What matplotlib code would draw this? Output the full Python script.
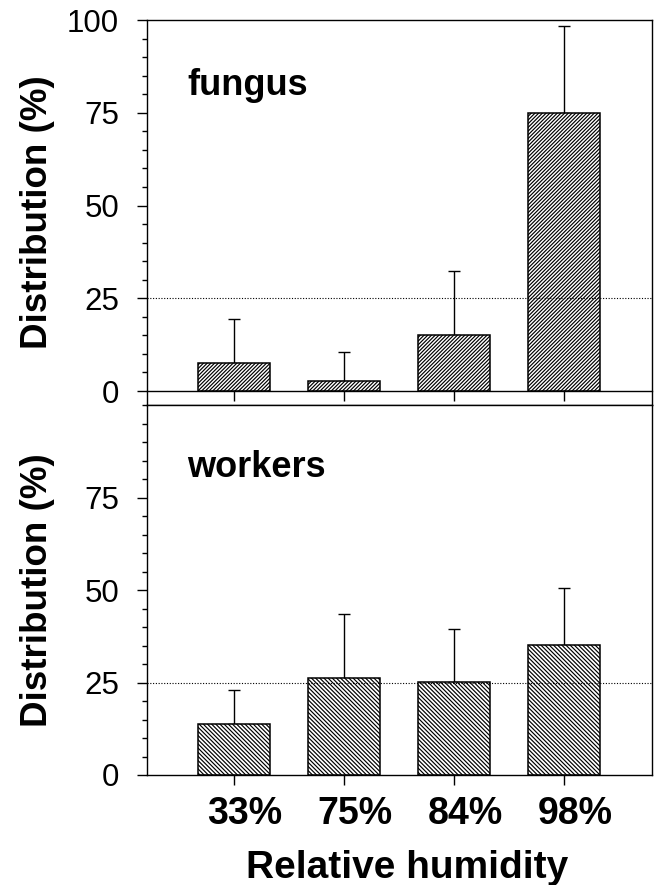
import matplotlib
matplotlib.use("Agg")
import matplotlib.pyplot as plt
import matplotlib.transforms as mtransforms
import numpy as np

plt.rcParams['font.family'] = ['Liberation Sans', 'DejaVu Sans']
plt.rcParams['hatch.linewidth'] = 0.85

categories = ["33%", "75%", "84%", "98%"]
fungus_mean = [7.5, 2.7, 15.1, 75.0]
fungus_err = [11.9, 7.7, 17.3, 23.5]
workers_mean = [13.7, 26.3, 25.2, 35.1]
workers_err = [9.2, 17.1, 14.3, 15.4]
reference_level = 25
yticks_top = [0, 25, 50, 75, 100]
yticks_bottom = [0, 25, 50, 75]

W, H = 655, 885
fig = plt.figure(figsize=(W / 100, H / 100), dpi=100)
L, R = 147, 652
ax1 = fig.add_axes([L / W, 1 - 405 / H, (R - L) / W, (405 - 20) / H])
ax2 = fig.add_axes([L / W, 1 - 775 / H, (R - L) / W, (775 - 405) / H])

x = np.arange(len(categories))


def style_axis(ax, yticks):
    ax.set_xlim(-0.79, 3.8)
    ax.set_yticks(yticks)
    ax.set_yticks(np.arange(0, 101, 5), minor=True)
    ax.tick_params(axis='y', which='major', direction='out', length=7, width=1, labelsize=22.5, pad=13)
    ax.tick_params(axis='y', which='minor', direction='out', length=3.6, width=1)
    ax.tick_params(axis='x', which='major', direction='out', length=7.2, width=1)
    for s in ax.spines.values():
        s.set_linewidth(1.0)
    ax.set_ylabel("Distribution (%)", fontsize=26.5, fontweight='bold')
    ax.yaxis.set_label_coords((55 - L) / (R - L), 0.5)


# top panel
ax1.bar(x, fungus_mean, width=0.66, color='white', edgecolor='black', linewidth=1.1,
        hatch='/' * 9, zorder=2)
ax1.errorbar(x, fungus_mean, yerr=[np.zeros(len(x)), fungus_err], fmt='none', ecolor='black',
             elinewidth=1, capsize=4, capthick=1, zorder=1)
ax1.axhline(reference_level, color='black', linestyle=(0, (1, 1.5)), linewidth=0.8, zorder=3)
ax1.set_ylim(-3.77, 100)
style_axis(ax1, yticks_top)
ax1.spines['bottom'].set_position(('data', 0))
ax1.plot([0, 1], [0, 0], transform=ax1.transAxes, color='black', linewidth=1.0, clip_on=False)
ax1.set_xticks(x)
ax1.set_xticklabels([])
ax1.text((187 - L) / (R - L), (405 - 95) / 385, "fungus", transform=ax1.transAxes,
         fontsize=26, fontweight='bold')

# bottom panel
ax2.bar(x, workers_mean, width=0.66, color='white', edgecolor='black', linewidth=1.1,
        hatch='\\' * 8, zorder=2)
ax2.errorbar(x, workers_mean, yerr=[np.zeros(len(x)), workers_err], fmt='none', ecolor='black',
             elinewidth=1, capsize=4, capthick=1, zorder=1)
ax2.axhline(reference_level, color='black', linestyle=(0, (1, 1.5)), linewidth=0.8, zorder=3)
ax2.set_ylim(0, 100)
style_axis(ax2, yticks_bottom)
ax2.set_xticks(x)
ax2.set_xticklabels(categories, fontsize=27, fontweight='bold')
ax2.tick_params(axis='x', pad=8)
shift = mtransforms.ScaledTranslation(0.11, 0, fig.dpi_scale_trans)
for lab in ax2.get_xticklabels():
    lab.set_transform(lab.get_transform() + shift)
ax2.set_xlabel("Relative humidity", fontsize=28, fontweight='bold')
ax2.xaxis.set_label_coords((407.5 - L) / (R - L), (775 - 850) / 370)
ax2.text((187.6 - L) / (R - L), (775 - 477) / 370, "workers", transform=ax2.transAxes,
         fontsize=26, fontweight='bold')

fig.savefig("out.png", dpi=100)
